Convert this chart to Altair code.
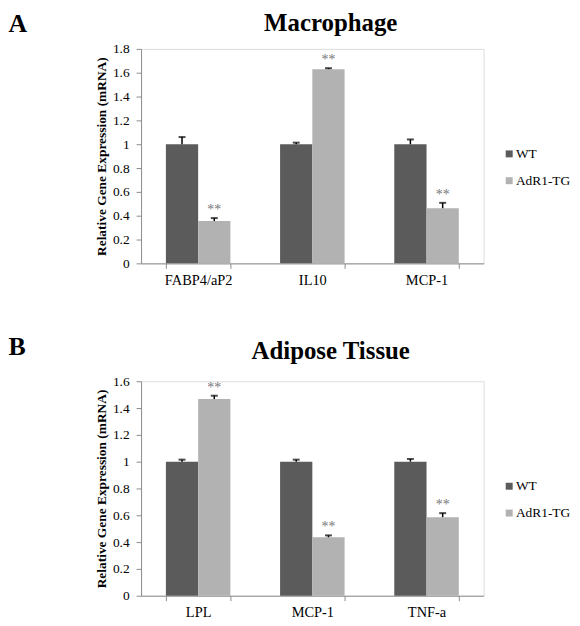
import altair as alt
import pandas as pd

# ---- data ----
groups = ["WT", "AdR1-TG"]

genes_a = ["FABP4/aP2", "IL10", "MCP-1"]
wt_a = [1.0, 1.0, 1.0]
wt_err_a = [0.06, 0.013, 0.04]
tg_a = [0.355, 1.63, 0.463]
tg_err_a = [0.025, 0.008, 0.045]
stars_a = ["", "", "", "**", "**", "**"]
ticks_a = [0, 0.2, 0.4, 0.6, 0.8, 1, 1.2, 1.4, 1.6, 1.8]

genes_b = ["LPL", "MCP-1", "TNF-a"]
wt_b = [1.0, 1.0, 1.0]
wt_err_b = [0.015, 0.015, 0.02]
tg_b = [1.467, 0.436, 0.586]
tg_err_b = [0.025, 0.014, 0.03]
stars_b = ["", "", "", "**", "**", "**"]
ticks_b = [0, 0.2, 0.4, 0.6, 0.8, 1, 1.2, 1.4, 1.6]

title_a, letter_a = "Macrophage", "A"
title_b, letter_b = "Adipose Tissue", "B"
y_title = "Relative Gene Expression (mRNA)"

SERIF = "Liberation Serif"
AXIS_GRAY = "#8c8c8c"
W, H = 345, 216


def make_df(genes, wt, wt_err, tg, tg_err, stars):
    rows = []
    for g, v, e in zip(genes, wt, wt_err):
        rows.append({"gene": g, "group": "WT", "value": v, "err": e})
    for g, v, e in zip(genes, tg, tg_err):
        rows.append({"gene": g, "group": "AdR1-TG", "value": v, "err": e})
    df = pd.DataFrame(rows)
    df["top"] = df["value"] + df["err"]
    df["star"] = stars
    return df


def panel(genes, wt, wt_err, tg, tg_err, stars, ticks, ymax, title, letter,
          title_y, letter_y):
    df = make_df(genes, wt, wt_err, tg, tg_err, stars)
    base = alt.Chart(df)

    x = alt.X("gene:N", sort=genes, title=None,
              scale=alt.Scale(paddingInner=0.435, paddingOuter=0.2175),
              axis=alt.Axis(labelAngle=0, tickBand="extent", domainColor=AXIS_GRAY,
                            tickColor=AXIS_GRAY, tickSize=5, labelFont=SERIF,
                            labelFontSize=14.5, labelColor="black", labelPadding=5))
    xo = alt.XOffset("group:N", sort=groups,
                     scale=alt.Scale(paddingInner=0, paddingOuter=0))
    y_axis = alt.Axis(values=ticks, format="~g", grid=False, domainColor=AXIS_GRAY,
                      tickColor=AXIS_GRAY, tickSize=5, labelFont=SERIF,
                      labelFontSize=13.5, labelColor="black", labelPadding=7,
                      labelOverlap=False,
                      titleFont=SERIF, titleFontSize=13.5, titleFontWeight="bold",
                      titleColor="black", titlePadding=4)
    yscale = alt.Scale(domain=[0, ymax], nice=False)

    def yenc(field):
        return alt.Y(field, scale=yscale, axis=y_axis, title=y_title)

    legend = alt.Legend(orient="none", legendX=364, legendY=99,
                        title=None, symbolType="square",
                        symbolSize=49, symbolStrokeWidth=0,
                        symbolOpacity=1, labelFont=SERIF,
                        labelFontSize=13.5, labelColor="black",
                        labelOffset=0, rowPadding=12, padding=0)
    color = alt.Color("group:N", sort=groups,
                      scale=alt.Scale(domain=groups, range=["#5b5b5b", "#b2b2b2"]),
                      legend=legend)

    bars = base.mark_bar().encode(x=x, xOffset=xo, y=yenc("value:Q"), color=color)
    rule = base.mark_rule(color="black", strokeWidth=1.5).encode(
        x=x, xOffset=xo, y=yenc("value:Q"), y2="top:Q")
    cap = base.mark_tick(color="black", thickness=2, size=7).encode(
        x=x, xOffset=xo, y=yenc("top:Q"))
    star = base.mark_text(font=SERIF, fontSize=14, color="#777777",
                          baseline="alphabetic", dy=-4).encode(
        x=x, xOffset=xo, y=yenc("top:Q"), text="star:N")

    ttl = alt.Chart(pd.DataFrame({"t": [title]})).mark_text(
        font=SERIF, fontSize=25, fontWeight="bold", color="black",
        align="center", baseline="alphabetic").encode(
        x=alt.value(191), y=alt.value(title_y), text="t:N")
    let = alt.Chart(pd.DataFrame({"t": [letter]})).mark_text(
        font=SERIF, fontSize=26, fontWeight="bold", color="black",
        align="left", baseline="alphabetic").encode(
        x=alt.value(-133.5), y=alt.value(letter_y), text="t:N")

    return alt.layer(bars, rule, cap, star, ttl, let).properties(width=W, height=H)


pa = panel(genes_a, wt_a, wt_err_a, tg_a, tg_err_a, stars_a, ticks_a, 1.8,
           title_a, letter_a, -17.6, -16.9)
pb = panel(genes_b, wt_b, wt_err_b, tg_b, tg_err_b, stars_b, ticks_b, 1.6,
           title_b, letter_b, -22.3, -26.3)

chart = alt.vconcat(pa, pb, spacing=46.7).resolve_scale(
    x="independent", y="independent", xOffset="independent", color="independent"
).resolve_legend(color="independent").properties(
    padding={"left": 0, "top": 0, "right": 0, "bottom": 0}
).configure_view(stroke=None).configure(background="white").configure_legend(
    labelFont=SERIF, labelFontSize=13.5, labelColor="black", labelOffset=0,
    symbolSize=49, rowPadding=12, padding=0, symbolType="square"
).configure_axis(labelFont=SERIF, titleFont=SERIF)

chart.save("out.html", embed_options={"renderer": "svg", "actions": False})
